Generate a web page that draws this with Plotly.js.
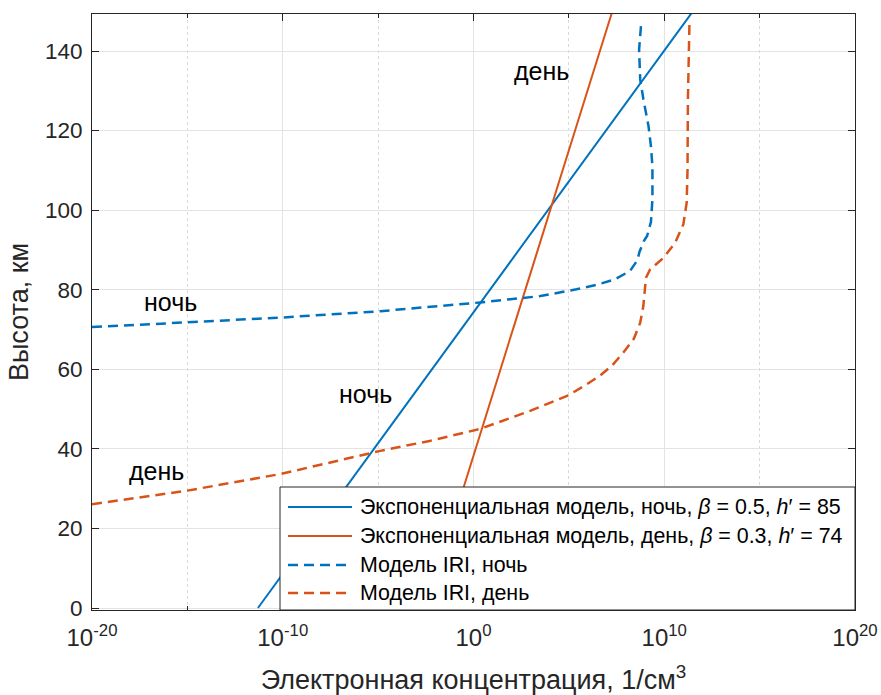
<!DOCTYPE html>
<html>
<head>
<meta charset="utf-8">
<script src="https://cdn.plot.ly/plotly-3.0.1.min.js"></script>
<style>html,body{margin:0;padding:0;background:#fff;}#chart{width:881px;height:695px;}</style>
</head>
<body>
<div id="chart"></div>
<script>
// Exponential (Wait) model, night: beta = 0.5, h' = 85
const expNightH = [0, 50, 100, 150];
const expNightNe = [5.0e-12, 2.0e-4, 8.0e3, 3.2e11];
// Exponential model, day: beta = 0.3, h' = 74
const expDayH = [0, 50, 100, 150];
const expDayNe = [3.2e-3, 5.9, 1.05e4, 1.9e7];
// IRI model, night
const iriNightH = [70.6, 71.9, 73.0, 74.6, 76.8, 78.4, 79.2, 80.1, 81.3, 82.6, 84.7, 87.5, 89.5, 92.2, 93.5, 97.0, 102.7, 111.0, 116.1, 121.1, 127.8, 132.8, 140.3, 147.0];
const iriNightNe = [1e-20, 1e-15, 8e-11, 1.3e-5, 2.2, 3.2e3, 3.2e4, 2.5e5, 3.2e6, 2.5e7, 1.6e8, 4.0e8, 5.0e8, 8.5e8, 1.26e9, 2.0e9, 2.4e9, 2.4e9, 2.0e9, 1.5e9, 8.1e8, 5.5e8, 4.8e8, 6.2e8];
// IRI model, day
const iriDayH = [26.1, 29.5, 33.7, 36.6, 39.5, 42.0, 45.0, 49.6, 53.3, 55.8, 58.3, 60.9, 64.2, 67.6, 71.7, 75.9, 80.9, 83.0, 85.1, 88.0, 91.8, 96.4, 101.9, 110.0, 127.8, 140.0, 147.3];
const iriDayNe = [1e-20, 1e-15, 8e-11, 3.2e-8, 1.3e-5, 5e-3, 2.2, 1e3, 8e4, 6.3e5, 4e6, 1.8e7, 7.2e7, 2.5e8, 5.5e8, 8e8, 1e9, 1.1e9, 1.8e9, 9.1e9, 3.7e10, 1e11, 1.5e11, 1.66e11, 1.74e11, 1.9e11, 2.1e11];

const seriesNames = [
  'Экспоненциальная модель, ночь, <i>β</i> = 0.5, <i>h</i>′ = 85',
  'Экспоненциальная модель, день, <i>β</i> = 0.3, <i>h</i>′ = 74',
  'Модель IRI, ночь',
  'Модель IRI, день'
];
const xTickVals = [1e-20, 1e-10, 1, 1e10, 1e20];
const xTickText = ['10<sup>-20</sup>', '10<sup>-10</sup>', '10<sup>0</sup>', '10<sup>10</sup>', '10<sup>20</sup>'];
const xMinorVals = [1e-15, 1e-5, 1e5, 1e15];

const labelText = ['день', 'ночь', 'ночь', 'день'];
const labelX = [3.6e3, 1.3e-16, 2.1e-6, 2.5e-17];
const labelY = [134.9, 76.8, 53.7, 34.5];

const blue = '#0072BD', orange = '#D95319';
const axisColor = '#262626';
const fontFam = '"Liberation Sans", Arial, Helvetica, sans-serif';
const colors = [blue, orange, blue, orange];
const widths = [2, 2, 2.5, 2.5];
const dashes = ['solid', 'solid', '10px,6px', '10px,6px'];

const traces = [
  {x: expNightNe, y: expNightH},
  {x: expDayNe, y: expDayH},
  {x: iriNightNe, y: iriNightH},
  {x: iriDayNe, y: iriDayH}
].map((t, i) => Object.assign(t, {
  name: seriesNames[i], mode: 'lines', showlegend: false,
  line: {color: colors[i], width: widths[i], dash: dashes[i]}
}));

// plot area in pixels (layout only)
const L = 92, R = 855, T = 14, B = 610;
const px = v => (v - L) / (R - L);
const py = v => (B - v) / (B - T);

const annotations = labelText.map((t, i) => ({
  x: Math.log10(labelX[i]), y: labelY[i], xref: 'x', yref: 'y', text: t, showarrow: false,
  font: {family: fontFam, size: 25, color: '#000'}
}));

// legend drawn as a boxed block inside the axes (lower right)
const legTop = 487, legLeft = 280, rowY = [507, 536, 565, 593];
const shapes = [{
  type: 'rect', xref: 'paper', yref: 'paper', layer: 'above',
  x0: px(legLeft), x1: 1, y0: 0, y1: py(legTop),
  fillcolor: '#fff', line: {color: axisColor, width: 1}
}];
seriesNames.forEach((n, i) => {
  shapes.push({
    type: 'line', xref: 'paper', yref: 'paper', layer: 'above',
    x0: px(288), x1: px(352), y0: py(rowY[i]), y1: py(rowY[i]),
    line: {color: colors[i], width: widths[i], dash: dashes[i]}
  });
  annotations.push({
    xref: 'paper', yref: 'paper', x: px(358), y: py(rowY[i]), xanchor: 'left', yanchor: 'middle',
    text: n, showarrow: false, font: {family: fontFam, size: 21.4, color: '#000'}
  });
});

const layout = {
  width: 881, height: 695,
  margin: {l: L, r: 881 - R, t: T, b: 695 - B},
  paper_bgcolor: '#fff', plot_bgcolor: '#fff',
  font: {family: fontFam, size: 22, color: axisColor},
  showlegend: false,
  xaxis: {
    type: 'log', range: [-20, 20],
    tickmode: 'array', tickvals: xTickVals, ticktext: xTickText,
    ticks: 'inside', ticklen: 7, tickcolor: axisColor, tickwidth: 1,
    showline: true, linecolor: axisColor, linewidth: 1, mirror: 'ticks',
    showgrid: true, gridcolor: '#e3e3e3', gridwidth: 1,
    zeroline: false, ticklabelstandoff: 6,
    minor: {tickmode: 'array', tickvals: xMinorVals, ticks: 'inside', ticklen: 4, tickcolor: axisColor,
            showgrid: true, gridcolor: '#d8d8d8', griddash: 'dot', gridwidth: 1},
    tickfont: {family: fontFam, size: 24, color: axisColor},
    title: {text: 'Электронная концентрация, 1/см<sup>3</sup>', font: {family: fontFam, size: 27, color: axisColor}, standoff: 20}
  },
  yaxis: {
    range: [-0.5, 149.3],
    tickmode: 'linear', tick0: 0, dtick: 20,
    ticks: 'inside', ticklen: 7, tickcolor: axisColor, tickwidth: 1,
    showline: true, linecolor: axisColor, linewidth: 1, mirror: 'ticks',
    showgrid: true, gridcolor: '#e3e3e3', gridwidth: 1,
    zeroline: false, ticklabelstandoff: 4,
    tickfont: {family: fontFam, size: 22.5, color: axisColor},
    title: {text: 'Высота, км', font: {family: fontFam, size: 27, color: axisColor}, standoff: 8}
  },
  annotations: annotations,
  shapes: shapes
};

Plotly.newPlot('chart', traces, layout, {displayModeBar: false, staticPlot: true});
</script>
</body>
</html>
